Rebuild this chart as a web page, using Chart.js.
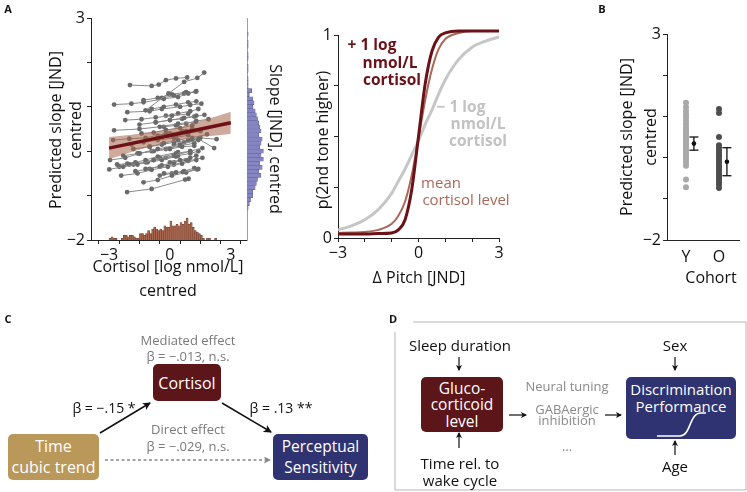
<!DOCTYPE html>
<html>
<head>
<meta charset="utf-8">
<script src="https://cdn.jsdelivr.net/npm/chart.js@4.4.0/dist/chart.umd.min.js"></script>
<style>
body{margin:0;width:747px;height:492px;position:relative;background:#fff;overflow:hidden;font-family:"Open Sans",sans-serif;color:#111}
canvas{position:absolute;top:0}
.t{position:absolute;white-space:nowrap;line-height:1;transform:translate(-50%,-50%)}
.box{position:absolute;border-radius:5px;color:#fff;display:flex;flex-direction:column;align-items:center;justify-content:center;text-align:center}
svg{position:absolute;left:0;top:0}
</style>
</head>
<body>
<canvas id="cA" width="260" height="300" style="left:0"></canvas>
<canvas id="cH" width="22" height="300" style="left:246px"></canvas>
<canvas id="cP" width="220" height="300" style="left:290px"></canvas>
<canvas id="cB" width="147" height="300" style="left:600px"></canvas>

<div class="box" style="left:153px;top:364px;width:68px;height:37px;background:#5c1519;font-size:16px">Cortisol</div>
<div class="box" style="left:8px;top:434px;width:91px;height:46px;background:#b9985a;font-size:16px;line-height:21px">Time<br>cubic trend</div>
<div class="box" style="left:273px;top:434px;width:95px;height:46px;background:#2f3371;font-size:15.5px;line-height:21px">Perceptual<br>Sensitivity</div>
<div class="box" style="left:421px;top:377px;width:82px;height:55px;background:#5c1519;font-size:15.5px;line-height:16.5px">Gluco-<br>corticoid<br>level</div>
<div class="box" style="left:626px;top:377px;width:110px;height:62px;background:#2f3371;font-size:15px;line-height:16.5px;justify-content:flex-start;padding-top:4px;box-sizing:border-box">Discrimination<br>Performance</div>

<svg width="747" height="492">
  <defs>
    <marker id="ah" markerWidth="8" markerHeight="8" refX="7" refY="4" orient="auto" markerUnits="userSpaceOnUse">
      <path d="M0,0 L8,4 L0,8 L2,4 Z" fill="#111"/>
    </marker>
    <marker id="ahg" markerWidth="7" markerHeight="7" refX="6" refY="3.5" orient="auto" markerUnits="userSpaceOnUse">
      <path d="M0,0 L7,3.5 L0,7 L1.5,3.5 Z" fill="#888"/>
    </marker>
    <marker id="as" markerWidth="6" markerHeight="6" refX="5" refY="3" orient="auto" markerUnits="userSpaceOnUse">
      <path d="M0,0 L6,3 L0,6 L1.5,3 Z" fill="#111"/>
    </marker>
  </defs>
  <line x1="100" y1="433" x2="150" y2="403" stroke="#111" stroke-width="1.5" marker-end="url(#ah)"/>
  <line x1="222" y1="403" x2="271" y2="432" stroke="#111" stroke-width="1.5" marker-end="url(#ah)"/>
  <line x1="105" y1="460" x2="270" y2="460" stroke="#888" stroke-width="1.3" stroke-dasharray="3,2.5" marker-end="url(#ahg)"/>
  <polyline points="413,322 746,322 746,490 395,490 395,332" fill="none" stroke="#b5b5b5" stroke-width="1"/>
  <line x1="459" y1="357" x2="459" y2="370" stroke="#111" stroke-width="1.2" marker-end="url(#as)"/>
  <line x1="459" y1="448" x2="459" y2="433" stroke="#111" stroke-width="1.2" marker-end="url(#as)"/>
  <line x1="675" y1="357" x2="675" y2="370" stroke="#111" stroke-width="1.2" marker-end="url(#as)"/>
  <line x1="675" y1="455" x2="675" y2="441" stroke="#111" stroke-width="1.2" marker-end="url(#as)"/>
  <line x1="509" y1="415" x2="526" y2="415" stroke="#111" stroke-width="1.2" marker-end="url(#as)"/>
  <line x1="605" y1="415" x2="621" y2="415" stroke="#111" stroke-width="1.2" marker-end="url(#as)"/>
  <path d="M657,436 L680,436 C691,436 689,413 701,413 L706,413" fill="none" stroke="#fff" stroke-width="1.6"/>
</svg>

<script>
// ---- panel A, left: cortisol vs predicted slope (one line per participant)
const slopeLines = [
  [[-1.97,1.49],[-0.9,1.47],[-0.55,1.5],[-0.2,1.6],[0.3,1.64],[0.85,1.66]],
  [[-1.2,0.92],[-0.07,1.3],[0.7,1.56],[1.35,1.65],[1.69,1.77]],
  [[-2.75,1.05],[-1.9,1.07],[-1.3,1.1],[-0.3,1.18],[0.4,1.22],[0.9,1.3],[1.27,1.34]],
  [[-2.1,0.88],[-1.0,0.9],[-0.4,0.95],[0.5,1.0],[1.0,1.04],[1.55,1.07]],
  [[-2.75,0.47],[-1.5,0.5],[-0.5,0.55],[0.4,0.62],[1.27,0.66]],
  [[-2.11,-0.92],[-0.9,-0.85],[0.75,-0.64],[0.92,-0.62]],
  [[-0.29,-0.5],[0.3,-0.48],[0.63,-0.47],[1.34,-0.41]],
  [[-2.99,-0.41],[-2.3,-0.35],[-1.6,-0.3],[-0.8,-0.2],[0.2,-0.1],[1.0,0.0],[1.6,0.07]],
  [[-2.95,-0.2],[-2.2,-0.15],[-1.5,-0.05],[-0.6,0.05],[0.5,0.15],[1.4,0.25]],
  [[-2.8,0.25],[-2.0,0.28],[-1.2,0.3],[-0.2,0.4],[0.8,0.45]],
  [[-2.4,-0.55],[-1.6,-0.5],[-0.9,-0.42],[-0.1,-0.35],[0.6,-0.28],[1.3,-0.2]],
  [[-2.0,-0.3],[-1.2,-0.25],[-0.5,-0.15],[0.3,-0.05],[1.0,0.0]],
  [[-1.8,0.05],[-1.0,0.1],[-0.3,0.18],[0.4,0.25],[1.1,0.3],[1.83,0.38]],
  [[-1.5,0.6],[-0.7,0.65],[0.0,0.7],[0.7,0.75],[1.3,0.8]],
  [[-1.3,-0.7],[-0.6,-0.65],[0.1,-0.55],[0.8,-0.48],[1.4,-0.4]],
  [[-1.0,0.1],[-0.4,0.15],[0.2,0.2],[0.9,0.25],[1.5,0.3],[2.3,0.27]],
  [[-2.2,0.7],[-1.4,0.72],[-0.7,0.76],[0.1,0.8],[0.9,0.84]],
  [[-0.9,0.95],[-0.3,1.0],[0.3,1.05],[0.9,1.1],[1.3,1.12]],
  [[-1.6,-0.05],[-0.8,0.0],[0.0,0.05],[0.6,0.1],[1.2,0.12]],
  [[-0.6,0.35],[0.0,0.4],[0.6,0.45],[1.1,0.5]],
  [[-1.2,-0.4],[-0.5,-0.35],[0.2,-0.3],[0.9,-0.22],[1.6,-0.15]],
  [[-2.5,-0.35],[-1.8,-0.3],[-1.1,-0.25],[-0.4,-0.2],[0.3,-0.12]],
  [[-0.3,0.55],[0.3,0.58],[0.8,0.62],[1.3,0.68],[1.9,0.72]],
  [[-1.4,0.4],[-0.8,0.42],[-0.2,0.48],[0.5,0.52],[1.1,0.58]],
  [[-0.8,-0.2],[-0.2,-0.15],[0.4,-0.1],[1.0,-0.05],[1.4,0.0]],
  [[-0.5,-0.55],[0.1,-0.5],[0.7,-0.45],[1.2,-0.38]],
  [[-1.9,0.15],[-1.3,0.2],[-0.6,0.25],[0.2,0.3],[0.9,0.36]],
  [[-0.2,0.8],[0.4,0.85],[1.0,0.9],[1.4,0.95]],
  [[-1.1,0.25],[-0.4,0.3],[0.3,0.33],[0.9,0.4],[1.5,0.45]],
  [[0.0,-0.25],[0.5,-0.2],[1.0,-0.15],[1.3,-0.1]],
  [[-2.3,-0.1],[-1.5,-0.05],[-0.9,0.0],[-0.2,0.05],[0.5,0.12],[1.2,0.18]],
  [[-0.7,0.65],[0.0,0.7],[0.6,0.73],[1.2,0.78],[1.7,0.82]],
  [[-1.7,-0.45],[-1.0,-0.4],[-0.4,-0.32],[0.2,-0.25],[0.8,-0.2]],
  [[0.2,0.15],[0.7,0.2],[1.1,0.25],[1.4,0.28],[2.18,0.07]],
  [[-0.4,1.2],[0.2,1.25],[0.7,1.3],[1.3,1.35]],
  [[-1.3,1.15],[-0.6,1.2],[0.1,1.28],[0.8,1.33]],
  [[-2.6,-0.3],[-2.1,-0.28],[-1.7,-0.25],[-1.2,-0.2],[-0.6,-0.12],[0.4,-0.02]]
];
// fitted line and its band, read at x = -3..3
const fitX = [-3, -2, -1, 0, 1, 2, 3];
const fitY = [0.07, 0.165, 0.26, 0.355, 0.45, 0.545, 0.64];
const bandLow = [-0.18, -0.035, 0.1, 0.215, 0.29, 0.345, 0.39];
const bandHigh = [0.32, 0.365, 0.42, 0.495, 0.61, 0.745, 0.89];
// cortisol histogram (bin centres, counts)
const cortBins = [-2.95,-2.85,-2.75,-2.65,-2.55,-2.45,-2.35,-2.25,-2.15,-2.05,-1.95,-1.85,-1.75,-1.65,-1.55,-1.45,-1.35,-1.25,-1.15,-1.05,-0.95,-0.85,-0.75,-0.65,-0.55,-0.45,-0.35,-0.25,-0.15,-0.05,0.05,0.15,0.25,0.35,0.45,0.55,0.65,0.75,0.85,0.95,1.05,1.15,1.25,1.35,1.45,1.55,1.65,1.75,1.85,1.95,2.05,2.15,2.25,2.35,2.45];
const cortCounts = [1,2,1,1,0,0,1,3,3,2,3,3,2,1,1,4,4,3,4,6,4,7,8,7,6,7,6,9,8,8,12,9,9,10,9,11,10,12,14,10,11,8,6,5,4,3,1,0,1,1,0,0,1,0,0];
// slope histogram (bin centres, counts)
const slopeBins = [2.85,2.75,2.65,2.55,2.45,2.35,2.25,2.15,2.05,1.95,1.85,1.75,1.65,1.55,1.45,1.35,1.25,1.15,1.05,0.95,0.85,0.75,0.65,0.55,0.45,0.35,0.25,0.15,0.05,-0.05,-0.15,-0.25,-0.35,-0.45,-0.55,-0.65,-0.75,-0.85,-0.95,-1.05,-1.15,-1.25,-1.35,-1.45];
const slopeCounts = [1,0,1,1,0,1,1,0,1,1,0,1,1,1,4,2,5,6,5,7,8,9,10,11,12,10,13,12,11,14,12,14,11,13,10,12,9,8,7,5,5,3,2,1];

// ---- panel A, right: psychometric curves
const pitchX = [-3,-2.5,-2,-1.5,-1,-0.75,-0.5,-0.25,0,0.25,0.5,0.75,1,1.5,2,2.5,3];
const pLow  = [0.04,0.06,0.09,0.14,0.22,0.28,0.34,0.41,0.48,0.56,0.63,0.71,0.78,0.88,0.94,0.97,0.99];
const pMean = [0.025,0.027,0.03,0.04,0.07,0.11,0.18,0.31,0.49,0.68,0.83,0.93,0.98,1.01,1.02,1.02,1.02];
const pHigh = [0.02,0.02,0.02,0.022,0.025,0.04,0.09,0.24,0.5,0.76,0.92,0.99,1.01,1.02,1.02,1.02,1.02];

// ---- panel B: cohorts
const cohorts = ['Y', 'O'];
const youngSlopes = [1.33,1.22,1.13,1.05,0.98,0.9,0.82,0.75,0.68,0.62,0.55,0.5,0.44,0.38,0.33,0.28,0.22,0.17,0.12,0.06,0.0,-0.05,-0.12,-0.2,-0.53,-0.72];
const oldSlopes = [1.18,1.08,0.5,0.3,0.24,0.18,0.12,0.06,0.0,-0.06,-0.12,-0.18,-0.24,-0.3,-0.36,-0.42,-0.48,-0.54,-0.6,-0.66,-0.74];
const cohortMean = [0.34, -0.1];
const cohortSem = [0.16, 0.34];

const FONT = '"Open Sans", sans-serif';
const axisCol = '#222';

function tickAxis(min, max, ticks, labels, size) {
  return {
    type: 'linear', min: min, max: max,
    afterBuildTicks: s => { s.ticks = ticks.map(v => ({ value: v })); },
    afterFit: s => { if (s.isHorizontal()) s.height = size; else s.width = size; },
    ticks: {
      autoSkip: false, padding: 2, color: '#111', maxRotation: 0, minRotation: 0,
      font: { family: FONT, size: 16 },
      callback: v => labels[ticks.indexOf(v)] || ''
    },
    grid: { drawOnChartArea: false, drawTicks: true, tickLength: 4, color: axisCol, tickWidth: 1 },
    border: { display: true, color: axisCol, width: 1 }
  };
}
const noPlugins = { legend: { display: false }, tooltip: { enabled: false } };

// panel A left
const datasetsA = [];
datasetsA.push({ type: 'line', data: fitX.map((x, i) => ({ x: x, y: fitY[i] })), borderColor: '#6e1016', borderWidth: 3.5, pointRadius: 0, order: 0 });
datasetsA.push({ type: 'line', data: fitX.map((x, i) => ({ x: x, y: bandHigh[i] })), borderWidth: 0, pointRadius: 0, fill: '+1', backgroundColor: 'rgba(165,100,75,0.55)', borderColor: 'rgba(0,0,0,0)', tension: 0.4, order: 1 });
datasetsA.push({ type: 'line', data: fitX.map((x, i) => ({ x: x, y: bandLow[i] })), borderWidth: 0, pointRadius: 0, fill: false, borderColor: 'rgba(0,0,0,0)', tension: 0.4, order: 1 });
slopeLines.forEach(p => {
  datasetsA.push({ type: 'line', data: p.map(d => ({ x: d[0], y: d[1] })), borderColor: '#8a8a8a', borderWidth: 1, pointRadius: 2.4, pointBackgroundColor: '#6a6a6a', pointBorderWidth: 0, order: 2 });
});
datasetsA.push({ type: 'bar', yAxisID: 'yh', data: cortBins.map((x, i) => ({ x: x, y: cortCounts[i] })), backgroundColor: '#a8664f', borderColor: '#6b3a2a', borderWidth: 0.5, categoryPercentage: 1, barPercentage: 1, order: 3 });

new Chart(document.getElementById('cA'), {
  type: 'line',
  data: { datasets: datasetsA },
  options: {
    responsive: false, animation: false,
    layout: { padding: { top: 18, right: 13, left: 0, bottom: 0 } },
    plugins: noPlugins,
    scales: {
      x: tickAxis(-3.34, 3.25, [-3, -2, -1, 0, 1, 2, 3], ['\u22123', '', '', '0', '', '', '3'], 60),
      y: tickAxis(-2, 3, [-2, -1, 0, 1, 2, 3], ['\u22122', '', '', '', '', '3'], 91),
      yh: { type: 'linear', display: false, min: 0, max: 141 }
    }
  }
});

// slope histogram on the right edge of panel A
new Chart(document.getElementById('cH'), {
  type: 'bar',
  data: { datasets: [{ data: slopeBins.map((y, i) => ({ x: slopeCounts[i], y: y })), backgroundColor: '#8585c2', borderColor: '#5b5b9c', borderWidth: 0.5, categoryPercentage: 1, barPercentage: 1 }] },
  options: {
    indexAxis: 'y', responsive: false, animation: false,
    layout: { padding: { top: 18, right: 0, left: 1, bottom: 60 } },
    plugins: noPlugins,
    scales: {
      x: { type: 'linear', display: false, min: 0, max: 18 },
      y: { type: 'linear', min: -2, max: 3, afterFit: s => { s.width = 0; },
           ticks: { display: false }, grid: { display: false }, border: { display: true, color: '#9a9ac4', width: 1 } }
    }
  }
});

// panel A right
new Chart(document.getElementById('cP'), {
  type: 'line',
  data: { datasets: [
    { data: pitchX.map((x, i) => ({ x: x, y: pHigh[i] })), borderColor: '#6b1218', borderWidth: 3, pointRadius: 0, cubicInterpolationMode: 'monotone', clip: false },
    { data: pitchX.map((x, i) => ({ x: x, y: pMean[i] })), borderColor: '#a8685a', borderWidth: 2, pointRadius: 0, cubicInterpolationMode: 'monotone', clip: false },
    { data: pitchX.map((x, i) => ({ x: x, y: pLow[i] })), borderColor: '#c6c6c6', borderWidth: 3, pointRadius: 0, cubicInterpolationMode: 'monotone', clip: false }
  ] },
  options: {
    responsive: false, animation: false,
    layout: { padding: { top: 35, right: 11, left: 0, bottom: 0 } },
    plugins: noPlugins,
    scales: {
      x: tickAxis(-3, 3, [-3, -2, -1, 0, 1, 2, 3], ['\u22123', '', '', '0', '', '', '3'], 62),
      y: tickAxis(0, 1, [0, 0.25, 0.5, 0.75, 1], ['0', '', '', '', '1'], 48)
    }
  }
});

// panel B
const bX = tickAxis(0.424, 2.606, [1, 2], cohorts, 60);
bX.grid.tickLength = 0;
bX.ticks.padding = 8;
new Chart(document.getElementById('cB'), {
  type: 'scatter',
  data: { datasets: [
    { data: cohortMean.map((m, i) => ({ x: i + 1.24, y: m })), pointRadius: 2.3, backgroundColor: '#111', borderWidth: 0 },
    { data: cohortMean.map((m, i) => ({ x: i + 1.24, y: m + cohortSem[i] })), pointStyle: 'line', pointRadius: 4.5, borderColor: '#111', borderWidth: 1.3 },
    { data: cohortMean.map((m, i) => ({ x: i + 1.24, y: m - cohortSem[i] })), pointStyle: 'line', pointRadius: 4.5, borderColor: '#111', borderWidth: 1.3 },
    { type: 'line', data: [{ x: 1.24, y: cohortMean[0] - cohortSem[0] }, { x: 1.24, y: cohortMean[0] + cohortSem[0] }], borderColor: '#111', borderWidth: 1.3, pointRadius: 0 },
    { type: 'line', data: [{ x: 2.24, y: cohortMean[1] - cohortSem[1] }, { x: 2.24, y: cohortMean[1] + cohortSem[1] }], borderColor: '#111', borderWidth: 1.3, pointRadius: 0 },
    { data: youngSlopes.map(v => ({ x: 1, y: v })), pointRadius: 3, backgroundColor: '#a9a9a9', borderWidth: 0 },
    { data: oldSlopes.map(v => ({ x: 2, y: v })), pointRadius: 3, backgroundColor: '#4e4e4e', borderWidth: 0 }
  ] },
  options: {
    responsive: false, animation: false,
    layout: { padding: { top: 34, right: 8, left: 0, bottom: 0 } },
    plugins: noPlugins,
    scales: {
      x: bX,
      y: tickAxis(-2, 3, [-2, -1, 0, 1, 2, 3], ['\u22122', '', '', '', '', '3'], 67)
    }
  }
});

// text
function addText(txt, x, y, o) {
  o = o || {};
  const d = document.createElement('div');
  d.className = 't';
  d.textContent = txt;
  d.style.left = x + 'px';
  d.style.top = y + 'px';
  d.style.fontSize = (o.size || 16) + 'px';
  if (o.color) d.style.color = o.color;
  if (o.bold) d.style.fontWeight = 'bold';
  if (o.rot) d.style.transform = 'translate(-50%,-50%) rotate(' + o.rot + 'deg)';
  document.body.appendChild(d);
}
addText('A', 8, 8, { size: 11, bold: true });
addText('B', 602, 8, { size: 11, bold: true });
addText('C', 8, 318, { size: 11, bold: true });
addText('D', 393, 318, { size: 11, bold: true });

addText('Predicted slope [JND]', 55, 130, { rot: -90 });
addText('centred', 75, 130, { rot: -90 });
addText('Cortisol [log nmol/L]', 168, 266);
addText('centred', 168, 290);
addText('Slope [JND], centred', 276, 139, { rot: 90 });

addText('p(2nd tone higher)', 322, 140, { rot: -90 });
addText('\u0394 Pitch [JND]', 419, 277);
addText('+ 1 log', 372, 45, { bold: true, color: '#6b1218', size: 15.5 });
addText('nmol/L', 390, 63, { bold: true, color: '#6b1218', size: 15.5 });
addText('cortisol', 392, 80, { bold: true, color: '#6b1218', size: 15.5 });
addText('\u2212 1 log', 461, 107, { bold: true, color: '#c2c2c2', size: 15.5 });
addText('nmol/L', 478, 124, { bold: true, color: '#c2c2c2', size: 15.5 });
addText('cortisol', 478, 141, { bold: true, color: '#c2c2c2', size: 15.5 });
addText('mean', 441, 182, { color: '#a8685a', size: 15 });
addText('cortisol level', 466, 199, { color: '#a8685a', size: 15 });

addText('Predicted slope [JND]', 626, 137, { rot: -90 });
addText('centred', 650, 137, { rot: -90 });
addText('Cohort', 711, 277);

addText('Mediated effect', 188, 340, { size: 13, color: '#7a7a7a' });
addText('\u03b2 = \u2212.013, n.s.', 188, 356, { size: 13, color: '#7a7a7a' });
addText('\u03b2 = \u2212.15 *', 104, 408, { size: 14 });
addText('\u03b2 = .13 **', 281, 408, { size: 14 });
addText('Direct effect', 188, 429, { size: 13, color: '#7a7a7a' });
addText('\u03b2 = \u2212.029, n.s.', 188, 446, { size: 13, color: '#7a7a7a' });

addText('Sleep duration', 460, 345, { size: 15 });
addText('Time rel. to', 460, 463, { size: 15 });
addText('wake cycle', 460, 480, { size: 15 });
addText('Neural tuning', 567, 386, { size: 13, color: '#8a8a8a' });
addText('GABAergic', 567, 409, { size: 13, color: '#8a8a8a' });
addText('inhibition', 567, 420, { size: 13, color: '#8a8a8a' });
addText('\u2026', 567, 446, { size: 13, color: '#8a8a8a' });
addText('Sex', 675, 345, { size: 15 });
addText('Age', 675, 466, { size: 15 });
</script>
</body>
</html>
